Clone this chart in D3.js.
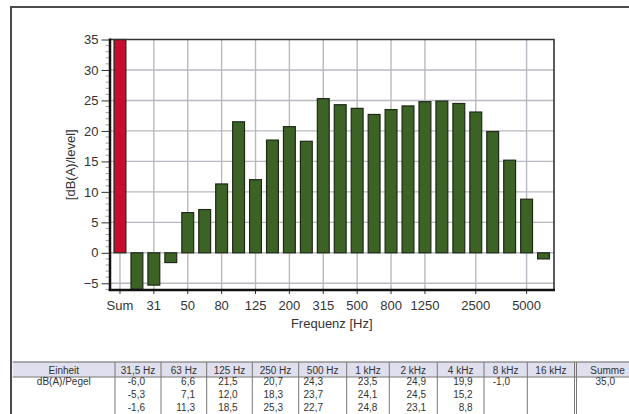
<!DOCTYPE html>
<html>
<head>
<meta charset="utf-8">
<script src="https://cdn.jsdelivr.net/npm/d3@7"></script>
<style>
  html, body { margin: 0; padding: 0; background: #fff; }
  svg { display: block; font-family: "Liberation Sans", Arial, sans-serif; }
</style>
</head>
<body>
<svg id="chart" width="629" height="414"></svg>
<script>
// Third-octave band levels (first entry is the overall sum)
const bands = ["Sum","25","31","40","50","63","80","100","125","160","200","250","315",
               "400","500","630","800","1000","1250","1600","2000","2500","3150","4000","5000","6300"];
const levels = [35.0, -6.0, -5.3, -1.6, 6.6, 7.1, 11.3, 21.5, 12.0, 18.5, 20.7, 18.3, 25.3,
                24.3, 23.7, 22.7, 23.5, 24.1, 24.8, 24.9, 24.5, 23.1, 19.9, 15.2, 8.8, -1.0];
// Bands that carry a label on the frequency axis
const labelledBands = ["Sum","31","50","80","125","200","315","500","800","1250","2500","5000"];
const yTicks = [-5, 0, 5, 10, 15, 20, 25, 30, 35];

// Octave table
const octaves = ["31,5 Hz","63 Hz","125 Hz","250 Hz","500 Hz","1 kHz","2 kHz","4 kHz","8 kHz","16 kHz"];
const unitLabel = "Einheit";
const unitName = "dB(A)/Pegel";
const sumLabel = "Summe";

const svg = d3.select("#chart");
const W = 629, H = 414;
svg.append("rect").attr("width", W).attr("height", H).attr("fill", "#fff");

// page frame
svg.append("path")
  .attr("d", `M11,${H} V7 H${W}`)
  .attr("fill", "none").attr("stroke", "#4a4a4a").attr("stroke-width", 2);

const plot = { left: 109.5, right: 554, top: 39.5, bottom: 290 };

const x = d3.scaleBand()
  .domain(bands)
  .range([111.5, 552])
  .paddingInner(0.3)
  .paddingOuter(0.15);

const y = d3.scaleLinear()
  .domain([-6.1, 35])
  .range([plot.bottom, plot.top]);

const gridColor = "#b9b9c2";
const g = svg.append("g");

// horizontal grid
g.selectAll("line.hgrid").data(yTicks.filter(v => v < 35)).enter().append("line")
  .attr("x1", plot.left).attr("x2", plot.right)
  .attr("y1", d => y(d)).attr("y2", d => y(d))
  .attr("stroke", gridColor).attr("stroke-width", 1.4);

// vertical grid at labelled bands
g.selectAll("line.vgrid").data(labelledBands).enter().append("line")
  .attr("x1", d => x(d) + x.bandwidth() / 2).attr("x2", d => x(d) + x.bandwidth() / 2)
  .attr("y1", plot.top).attr("y2", plot.bottom)
  .attr("stroke", gridColor).attr("stroke-width", 1.4);

// bars
g.selectAll("rect.bar").data(bands).enter().append("rect")
  .attr("x", d => x(d))
  .attr("width", x.bandwidth())
  .attr("y", (d, i) => y(Math.max(0, levels[i])))
  .attr("height", (d, i) => Math.abs(y(levels[i]) - y(0)))
  .attr("fill", (d, i) => i === 0 ? "#c70c2f" : "#3d6226")
  .attr("stroke", "#1e2a17").attr("stroke-width", 1.2);

// plot border (top / right)
svg.append("path")
  .attr("d", `M${plot.left},${plot.top} H${plot.right} V${plot.bottom}`)
  .attr("fill", "none").attr("stroke", "#333").attr("stroke-width", 1.6);

// Y axis
const yAxis = d3.axisLeft(y).tickValues(yTicks).tickSize(8).tickPadding(3);
const ya = svg.append("g").attr("transform", `translate(${plot.left},0)`).call(yAxis);
ya.select(".domain").remove();
ya.selectAll(".tick line").attr("stroke", "#333").attr("stroke-width", 1);
ya.selectAll(".tick text").attr("font-size", 13).attr("fill", "#333")
  .attr("font-family", "'Liberation Sans', Arial, sans-serif");
// minor ticks every unit
const minor = d3.range(-6, 36).filter(v => v % 5 !== 0);
svg.append("g").selectAll("line").data(minor).enter().append("line")
  .attr("x1", plot.left - 4).attr("x2", plot.left)
  .attr("y1", d => y(d)).attr("y2", d => y(d))
  .attr("stroke", "#888").attr("stroke-width", 0.8);
svg.append("line")
  .attr("x1", plot.left + 0.5).attr("x2", plot.left + 0.5)
  .attr("y1", plot.top - 1).attr("y2", plot.bottom + 1)
  .attr("stroke", "#111").attr("stroke-width", 2.5);

// X axis
const xAxis = d3.axisBottom(x).tickValues(labelledBands).tickSize(4).tickPadding(7);
const xa = svg.append("g").attr("transform", `translate(0,${plot.bottom})`).call(xAxis);
xa.select(".domain").remove();
xa.selectAll(".tick line").attr("stroke", "#333").attr("stroke-width", 1);
xa.selectAll(".tick text").attr("font-size", 13).attr("fill", "#333")
  .attr("font-family", "'Liberation Sans', Arial, sans-serif");
svg.append("line")
  .attr("x1", plot.left - 0.75).attr("x2", plot.right + 1)
  .attr("y1", plot.bottom).attr("y2", plot.bottom)
  .attr("stroke", "#111").attr("stroke-width", 2.5);

// axis titles
svg.append("text")
  .attr("x", (plot.left + plot.right) / 2).attr("y", 328)
  .attr("text-anchor", "middle").attr("font-size", 13).attr("fill", "#333")
  .text("Frequenz [Hz]");
svg.append("text")
  .attr("transform", `translate(75,${(plot.top + plot.bottom) / 2}) rotate(-90)`)
  .attr("text-anchor", "middle").attr("font-size", 13).attr("fill", "#333")
  .text("[dB(A)/level]");

// ---- octave table ----
const fmt = v => v.toFixed(1).replace(".", ",");
const colEdges = [12.7, 115, 161, 206.7, 252.3, 298.7, 346.7, 389.3, 437.3, 484, 527.3, 574.5, 640];
const valueRight = [145, 195, 237.7, 283, 323, 377.3, 426, 472.7, 510, 560];
const t = { top: 362, headBottom: 377, bottom: 414, rows: [384.5, 398, 411] };

// each octave column lists its three third-octave bands
const octaveValues = octaves.map((o, k) => levels.slice(1 + 3 * k, 4 + 3 * k));

const tb = svg.append("g").attr("font-size", 10).attr("fill", "#333");
tb.append("rect")
  .attr("x", colEdges[0]).attr("y", t.top)
  .attr("width", W - colEdges[0]).attr("height", t.headBottom - t.top)
  .attr("fill", "#dfdfee");
tb.append("line").attr("x1", colEdges[0]).attr("x2", W).attr("y1", t.top).attr("y2", t.top)
  .attr("stroke", "#666").attr("stroke-width", 1.2);
tb.append("line").attr("x1", colEdges[0]).attr("x2", W).attr("y1", t.headBottom).attr("y2", t.headBottom)
  .attr("stroke", "#777").attr("stroke-width", 1);
tb.selectAll("line.col").data(colEdges.slice(1, -1)).enter().append("line")
  .attr("x1", d => d).attr("x2", d => d)
  .attr("y1", t.top).attr("y2", t.bottom)
  .attr("stroke", "#777").attr("stroke-width", 1);
tb.append("line").attr("x1", colEdges[11] + 2).attr("x2", colEdges[11] + 2)
  .attr("y1", t.top).attr("y2", t.bottom).attr("stroke", "#777").attr("stroke-width", 1);

const heads = [unitLabel, ...octaves, sumLabel];
tb.selectAll("text.head").data(heads).enter().append("text")
  .attr("x", (d, i) => i === heads.length - 1 ? 607.5 : (colEdges[i] + colEdges[i + 1]) / 2)
  .attr("y", 373.5).attr("text-anchor", "middle")
  .text(d => d);

tb.append("text").attr("x", 63.8).attr("y", t.rows[0]).attr("text-anchor", "middle").text(unitName);

octaveValues.forEach((vals, k) => {
  vals.forEach((v, r) => {
    tb.append("text").attr("x", valueRight[k]).attr("y", t.rows[r])
      .attr("text-anchor", "end").text(fmt(v));
  });
});
tb.append("text").attr("x", 615).attr("y", t.rows[0]).attr("text-anchor", "end").text(fmt(levels[0]));
</script>
</body>
</html>
